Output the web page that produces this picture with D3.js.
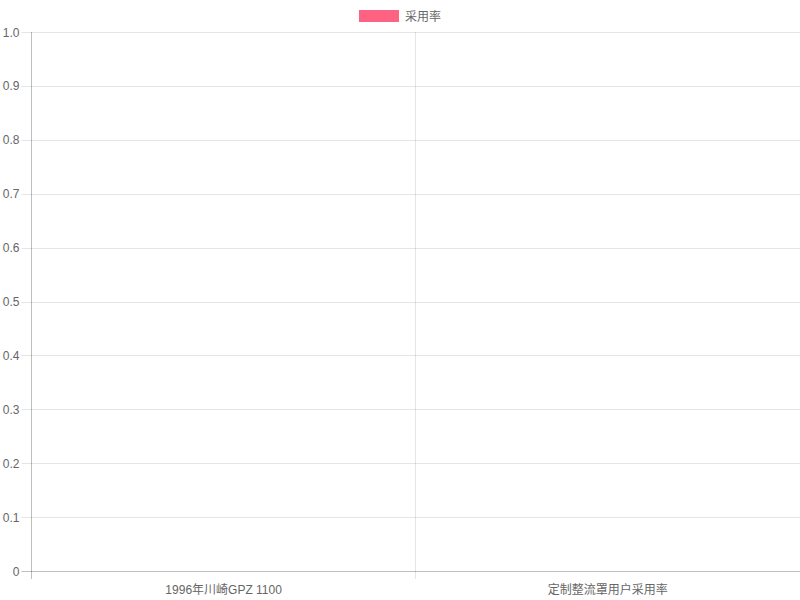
<!DOCTYPE html>
<html>
<head>
<meta charset="utf-8">
<script src="https://cdn.jsdelivr.net/npm/d3@7"></script>
<style>
  html, body { margin: 0; padding: 0; background: #fff; }
  text { font-family: "Liberation Sans", Arial, "Noto Sans CJK SC", sans-serif; font-size: 12px; fill: #666; }
</style>
</head>
<body>
<div class="chart"></div>
<script>
const categories = ["1996年川崎GPZ 1100", "定制整流罩用户采用率"];
const seriesName = "采用率";
const values = [0, 0];
const yTicks = [0, 0.1, 0.2, 0.3, 0.4, 0.5, 0.6, 0.7, 0.8, 0.9, 1.0];

const margin = ({top: 32, right: 0, bottom: 29, left: 31.5});
const width = 800, height = 600;
const barColor = "#ff6384";

const svg = d3.select(".chart").append("svg")
    .attr("width", width)
    .attr("height", height);

// legend
const lg = svg.append("g").attr("transform", "translate(359,10)");
lg.append("rect").attr("width", 40).attr("height", 12).attr("fill", barColor);
lg.append("text").attr("x", 46).attr("y", 10.5).text(seriesName);

const x = d3.scaleBand()
    .domain(categories)
    .range([margin.left, width - margin.right])
    .paddingInner(0.2).paddingOuter(0.1);

const xGrid = d3.scaleBand().domain(categories).range([margin.left, width - margin.right]);

const y = d3.scaleLinear()
    .domain([0, 1])
    .range([height - margin.bottom, margin.top]);

// horizontal grid
svg.append("g").selectAll("line").data(yTicks).join("line")
    .attr("x1", margin.left - 10).attr("x2", width)
    .attr("y1", d => Math.round(y(d)) + 0.5).attr("y2", d => Math.round(y(d)) + 0.5)
    .attr("stroke", d => d === 0 ? "rgba(0,0,0,0.25)" : "rgba(0,0,0,0.1)");

// vertical grid (category boundaries)
const bounds = categories.map(c => xGrid(c));
svg.append("g").selectAll("line").data(bounds).join("line")
    .attr("x1", d => Math.round(d - 0.5) + 0.5).attr("x2", d => Math.round(d - 0.5) + 0.5)
    .attr("y1", margin.top).attr("y2", height - margin.bottom + 8)
    .attr("stroke", (d, i) => i === 0 ? "rgba(0,0,0,0.25)" : "rgba(0,0,0,0.1)");

// y tick labels
svg.append("g").selectAll("text").data(yTicks).join("text")
    .attr("x", margin.left - 12)
    .attr("y", d => y(d) + 4.5)
    .attr("text-anchor", "end")
    .text(d => d === 0 ? "0" : d3.format(".1f")(d));

// x tick labels
svg.append("g").selectAll("text").data(categories).join("text")
    .attr("x", d => xGrid(d) + xGrid.bandwidth() / 2)
    .attr("y", height - margin.bottom + 23)
    .attr("text-anchor", "middle")
    .text(d => d);

// bars
svg.append("g").selectAll("rect").data(values).join("rect")
    .attr("x", (d, i) => x(categories[i]))
    .attr("width", x.bandwidth())
    .attr("y", d => y(d))
    .attr("height", d => y(0) - y(d))
    .attr("fill", barColor);
</script>
</body>
</html>
